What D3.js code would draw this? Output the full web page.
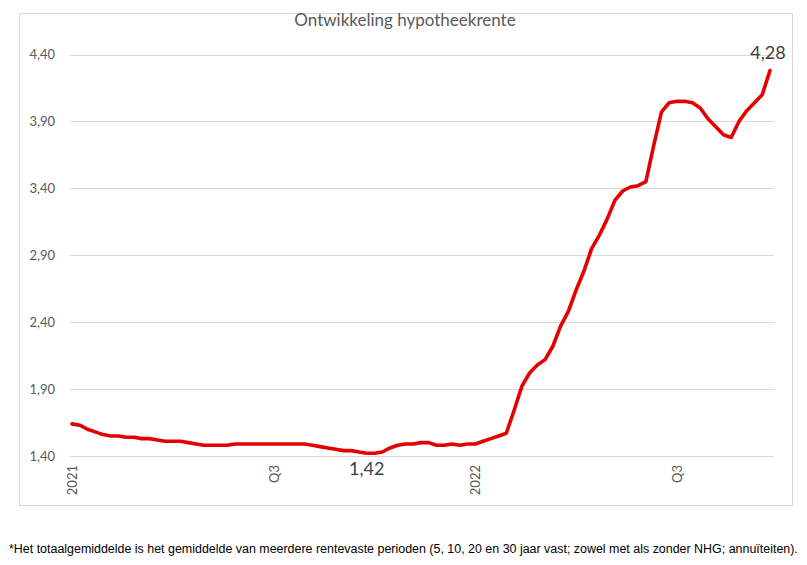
<!DOCTYPE html>
<html>
<head>
<meta charset="utf-8">
<script src="https://cdn.jsdelivr.net/npm/d3@7"></script>
<style>
  html, body { margin: 0; padding: 0; background: #ffffff; }
  svg { display: block; }
</style>
</head>
<body>
<svg id="chart" width="807" height="565"></svg>
<script>
// ---- data ----
const title = "Ontwikkeling hypotheekrente";
const footnote = "*Het totaalgemiddelde is het gemiddelde van meerdere rentevaste perioden (5, 10, 20 en 30 jaar vast; zowel met als zonder NHG; annuïteiten).";
const rates = [
  1.64, 1.63, 1.60, 1.58, 1.56, 1.55, 1.55, 1.54, 1.54, 1.53,
  1.53, 1.52, 1.51, 1.51, 1.51, 1.50, 1.49, 1.48, 1.48, 1.48,
  1.48, 1.49, 1.49, 1.49, 1.49, 1.49, 1.49, 1.49, 1.49, 1.49,
  1.49, 1.48, 1.47, 1.46, 1.45, 1.44, 1.44, 1.43, 1.42, 1.42,
  1.43, 1.46, 1.48, 1.49, 1.49, 1.50, 1.50, 1.48, 1.48, 1.49,
  1.48, 1.49, 1.49, 1.51, 1.53, 1.55, 1.57, 1.74, 1.92, 2.02,
  2.08, 2.12, 2.22, 2.37, 2.48, 2.64, 2.78, 2.95, 3.05, 3.17,
  3.31, 3.38, 3.41, 3.42, 3.45, 3.72, 3.97, 4.04, 4.05, 4.05,
  4.04, 4.00, 3.92, 3.86, 3.80, 3.78, 3.90, 3.98, 4.04, 4.10,
  4.28
];
const xTickIndex = [0, 26, 52, 78];
const xTickLabels = ["2021", "Q3", "2022", "Q3"];
const yTicks = [1.40, 1.90, 2.40, 2.90, 3.40, 3.90, 4.40];
const labelledPoints = [38, 90]; // min (1,42) and last (4,28)

// ---- drawing ----
const svg = d3.select("#chart");
const fmt = v => d3.format(".2f")(v).replace(".", ",");
const font = "Lato, 'Open Sans', sans-serif";

// outer chart border
svg.append("rect")
  .attr("x", 19.5).attr("y", 13.5)
  .attr("width", 773).attr("height", 492)
  .attr("fill", "#ffffff")
  .attr("stroke", "#d9d9d9").attr("stroke-width", 1);

const idx = d3.range(rates.length);
const x = d3.scalePoint().domain(idx).range([72, 770]);
const y = d3.scaleLinear().domain([1.40, 4.40]).range([456, 54.5]);

// gridlines
svg.append("g")
  .selectAll("line").data(yTicks).join("line")
  .attr("x1", 70).attr("x2", 774)
  .attr("y1", d => Math.round(y(d)) + 0.5)
  .attr("y2", d => Math.round(y(d)) + 0.5)
  .attr("stroke", "#d9d9d9").attr("stroke-width", 1);

// y axis labels
const yAxis = d3.axisLeft(y).tickValues(yTicks).tickFormat(fmt).tickSize(0).tickPadding(0);
const gy = svg.append("g").attr("transform", "translate(55,0)").call(yAxis);
gy.select(".domain").remove();
gy.selectAll("text")
  .attr("font-family", font).attr("font-size", 13).attr("fill", "#595959");

// x axis labels (rotated)
const xAxis = d3.axisBottom(x)
  .tickValues(xTickIndex)
  .tickFormat(d => xTickLabels[xTickIndex.indexOf(d)])
  .tickSize(0);
const gx = svg.append("g").attr("transform", "translate(0,456)").call(xAxis);
gx.select(".domain").remove();
gx.selectAll("text")
  .attr("font-family", font).attr("font-size", 13).attr("fill", "#595959")
  .attr("transform", "rotate(-90)")
  .attr("text-anchor", "end")
  .attr("x", -9).attr("y", 0).attr("dy", "0.35em");

// line
const line = d3.line().x((d, i) => x(i)).y(d => y(d));
svg.append("path")
  .datum(rates)
  .attr("d", line)
  .attr("fill", "none")
  .attr("stroke", "#e50000")
  .attr("stroke-width", 3.6)
  .attr("stroke-linejoin", "round")
  .attr("stroke-linecap", "round");

// data labels
svg.append("g").selectAll("text").data(labelledPoints).join("text")
  .attr("x", i => x(i) + (i === rates.length - 1 ? -2 : 0))
  .attr("y", i => i === rates.length - 1 ? y(rates[i]) - 12 : y(rates[i]) + 22)
  .attr("text-anchor", "middle")
  .attr("font-family", font).attr("font-size", 18).attr("fill", "#404040")
  .text(i => fmt(rates[i]));

// title
svg.append("text")
  .attr("x", 405).attr("y", 26)
  .attr("text-anchor", "middle")
  .attr("font-family", font).attr("font-size", 17).attr("fill", "#595959")
  .text(title);

// footnote: condensed by a horizontal scale so it fits the page width
const fn = svg.append("text")
  .attr("font-family", "'Liberation Sans Narrow', 'Arial Narrow', 'Liberation Sans', sans-serif")
  .attr("font-size", 13.5).attr("fill", "#000000")
  .text(footnote);
const natural = fn.node().getComputedTextLength();
const sx = Math.min(1, 790 / natural);
fn.attr("transform", `translate(9,553) scale(${sx},1)`);
</script>
</body>
</html>
